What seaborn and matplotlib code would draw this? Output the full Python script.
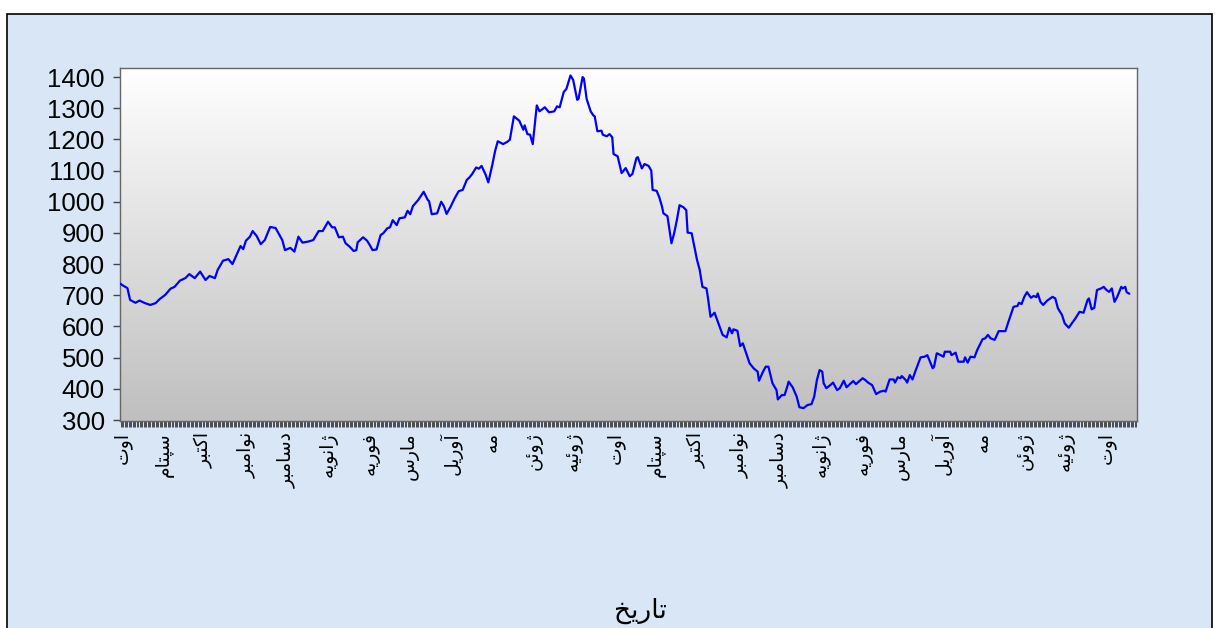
import matplotlib
matplotlib.use("Agg")
import matplotlib.pyplot as plt
import matplotlib.dates as mdates
from matplotlib.patches import Rectangle
from matplotlib.colors import LinearSegmentedColormap
import numpy as np
import pandas as pd
import seaborn as sns

# ---------------- data ----------------
start_date = "2007-08-01"
days = [-1, 0, 4, 6, 10, 13, 17, 21, 25, 28, 32, 36, 39, 43, 47, 50, 54, 58, 62, 65,
        69, 71, 75, 79, 82, 85, 88, 90, 92, 95, 97, 100, 103, 106, 110, 114, 119, 121, 125, 128,
        131, 134, 138, 142, 146, 149, 153, 156, 158, 161, 164, 166, 169, 172, 174, 175, 179, 182, 184, 186,
        189, 192, 194, 197, 199, 201, 204, 206, 210, 212, 214, 216, 220, 224, 227, 228, 230, 234, 237, 239,
        241, 244, 247, 250, 253, 256, 258, 260, 263, 265, 267, 270, 272, 275, 277, 279, 283, 286, 288, 291,
        295, 298, 299, 301, 303, 305, 308, 310, 314, 317, 321, 323, 325, 328, 330, 333, 335, 338, 339, 342,
        343, 345, 348, 350, 351, 353, 356, 357, 360, 362, 364, 365, 368, 371, 374, 377, 379, 382, 383, 386,
        388, 391, 393, 394, 397, 399, 401, 402, 405, 408, 410, 412, 414, 417, 419, 420, 423, 425, 427, 429,
        431, 434, 435, 437, 440, 443, 446, 449, 451, 453, 454, 457, 459, 461, 464, 466, 469, 472, 473, 476,
        478, 480, 483, 486, 487, 490, 492, 494, 495, 498, 501, 503, 506, 509, 512, 514, 516, 518, 520, 521,
        523, 526, 528, 531, 533, 536, 538, 543, 545, 550, 552, 554, 557, 560, 563, 566, 567, 570, 573, 574,
        576, 578, 579, 582, 583, 585, 587, 589, 593, 596, 598, 602, 603, 605, 608, 610, 611, 615, 616, 619,
        621, 625, 626, 628, 630, 633, 635, 639, 641, 643, 645, 648, 651, 656, 658, 662, 665, 666, 668, 670,
        672, 675, 677, 679, 680, 682, 684, 687, 691, 693, 695, 698, 700, 703, 705, 708, 711, 714, 717, 718,
        720, 722, 724, 727, 729, 731, 733, 735, 737, 739, 742, 743, 745, 746, 748]
values = [737, 733, 723, 685, 676, 683, 675, 669, 675, 688, 701, 721, 727, 747, 755, 768, 755, 776, 749, 762,
          755, 781, 811, 816, 800, 829, 858, 848, 875, 888, 906, 890, 864, 877, 919, 916, 877, 845, 852, 840,
          888, 869, 872, 877, 906, 906, 936, 918, 918, 886, 888, 867, 856, 842, 845, 870, 886, 875, 861, 845,
          847, 893, 899, 915, 918, 941, 925, 947, 950, 971, 960, 986, 1006, 1032, 1006, 1002, 960, 963, 1000, 986,
          961, 984, 1011, 1034, 1038, 1070, 1078, 1089, 1110, 1106, 1115, 1087, 1062, 1119, 1162, 1194, 1185, 1192, 1199, 1274,
          1260, 1231, 1245, 1217, 1215, 1185, 1309, 1290, 1303, 1287, 1290, 1306, 1303, 1352, 1362, 1405, 1391, 1327, 1330, 1400,
          1395, 1330, 1290, 1277, 1274, 1226, 1228, 1215, 1210, 1217, 1207, 1153, 1146, 1092, 1108, 1082, 1089, 1140, 1143, 1107,
          1121, 1115, 1100, 1038, 1035, 1014, 984, 963, 954, 867, 899, 941, 989, 982, 973, 901, 899, 856, 813, 781,
          727, 722, 695, 631, 644, 608, 573, 565, 596, 578, 591, 586, 537, 546, 508, 482, 466, 455, 426, 455,
          471, 471, 418, 396, 366, 380, 380, 407, 423, 405, 375, 341, 338, 348, 351, 375, 428, 460, 455, 418,
          402, 412, 420, 396, 402, 426, 405, 425, 415, 434, 428, 420, 412, 383, 391, 394, 391, 430, 430, 420,
          437, 434, 441, 428, 420, 444, 430, 455, 501, 503, 508, 466, 471, 514, 508, 503, 519, 519, 508, 516,
          487, 487, 501, 484, 503, 501, 524, 559, 562, 573, 562, 557, 585, 585, 612, 663, 666, 676, 672, 695,
          710, 692, 698, 694, 706, 679, 669, 683, 695, 690, 658, 637, 610, 596, 608, 626, 647, 644, 685, 690,
          655, 660, 717, 722, 727, 717, 711, 722, 679, 695, 727, 722, 727, 710, 705]
assert len(days) == len(values), (len(days), len(values))

month_labels = ["اوت", "سپتام", "اکتبر", "نوامبر", "دسامبر", "ژانویه", "فوریه", "مارس",
                "آوریل", "مه", "ژوئن", "ژوئیه",
                "اوت", "سپتام", "اکتبر", "نوامبر", "دسامبر", "ژانویه", "فوریه", "مارس",
                "آوریل", "مه", "ژوئن", "ژوئیه", "اوت"]
y_ticks = [300, 400, 500, 600, 700, 800, 900, 1000, 1100, 1200, 1300, 1400]
x_title = "تاریخ"

# ---------------- simple Arabic-script shaping for display ----------------
FORMS = {
    'ا': ('\uFE8D', '\uFE8E', None, None), 'آ': ('\uFE81', '\uFE82', None, None),
    'ب': ('\uFE8F', '\uFE90', '\uFE91', '\uFE92'), 'پ': ('\uFB56', '\uFB57', '\uFB58', '\uFB59'),
    'ت': ('\uFE95', '\uFE96', '\uFE97', '\uFE98'), 'خ': ('\uFEA5', '\uFEA6', '\uFEA7', '\uFEA8'),
    'د': ('\uFEA9', '\uFEAA', None, None), 'ر': ('\uFEAD', '\uFEAE', None, None),
    'ژ': ('\uFB8A', '\uFB8B', None, None), 'س': ('\uFEB1', '\uFEB2', '\uFEB3', '\uFEB4'),
    'ف': ('\uFED1', '\uFED2', '\uFED3', '\uFED4'), 'ک': ('\uFB8E', '\uFB8F', '\uFB90', '\uFB91'),
    'ل': ('\uFEDD', '\uFEDE', '\uFEDF', '\uFEE0'), 'م': ('\uFEE1', '\uFEE2', '\uFEE3', '\uFEE4'),
    'ن': ('\uFEE5', '\uFEE6', '\uFEE7', '\uFEE8'), 'ه': ('\uFEE9', '\uFEEA', '\uFEEB', '\uFEEC'),
    'و': ('\uFEED', '\uFEEE', None, None), 'ی': ('\uFBFC', '\uFBFD', '\uFBFE', '\uFBFF'),
    'ئ': ('\uFE89', '\uFE8A', '\uFE8B', '\uFE8C'),
}


def dual(c):
    return c in FORMS and FORMS[c][2] is not None


def shape(word):
    out = []
    for i, c in enumerate(word):
        if c not in FORMS:
            out.append(c)
            continue
        prev_join = i > 0 and dual(word[i - 1])
        next_join = i < len(word) - 1 and dual(c) and word[i + 1] in FORMS
        f = FORMS[c]
        if prev_join and next_join:
            g = f[3]
        elif prev_join:
            g = f[1]
        elif next_join:
            g = f[2]
        else:
            g = f[0]
        out.append(g)
    return "".join(reversed(out))


# ---------------- figure ----------------
sns.set_theme(style="white")
plt.rcParams["font.family"] = ["Liberation Sans", "DejaVu Sans"]

W, H = 1215, 628
fig = plt.figure(figsize=(W / 100, H / 100), dpi=100)
fig.patch.set_facecolor("white")
fig.add_artist(Rectangle((7 / W, -0.05), (1212 - 7) / W, 1 - 14 / H + 0.05,
                         transform=fig.transFigure, facecolor="#d8e6f5",
                         edgecolor="black", lw=1.2, zorder=-10))

ax = fig.add_axes([120 / W, 1 - 421 / H, (1137 - 120) / W, (421 - 68) / H])

cmap = LinearSegmentedColormap.from_list("g", ["#bfbfbf", "#ffffff"])
grad = np.linspace(1, 0, 256).reshape(-1, 1)
ax.imshow(grad, aspect="auto", cmap=cmap, extent=[0, 1, 0, 1],
          transform=ax.transAxes, zorder=0, interpolation="bicubic")

t0 = pd.Timestamp(start_date)
df = pd.DataFrame({"date": t0 + pd.to_timedelta(days, unit="D"), "value": values})
sns.lineplot(data=df, x="date", y="value", ax=ax, color="#0000ff", linewidth=1.6, zorder=3)

ax.set_xlim(t0 - pd.Timedelta(days=1.5), t0 + pd.Timedelta(days=753.7))
ax.set_ylim(296.8, 1429)
ax.set_aspect("auto")

month_pos = pd.date_range(t0, periods=len(month_labels), freq="MS")
ax.set_xticks(month_pos)
ax.set_xticklabels([shape(m) for m in month_labels], rotation=90,
                   fontsize=13.5, family=["DejaVu Sans"], color="black")
ax.xaxis.set_minor_locator(mdates.DayLocator())
ax.tick_params(axis="x", which="both", direction="out", length=4, width=0.6,
               color="#333333", pad=4, bottom=True)
ax.set_yticks(y_ticks)
ax.set_yticklabels([str(v) for v in y_ticks], color="black")
ax.tick_params(axis="y", direction="out", length=5, width=1, color="#444444",
               labelsize=18.5, pad=6, left=True)
ax.set_xlabel("")
ax.set_ylabel("")
for s in ax.spines.values():
    s.set_color("#666666")
    s.set_linewidth(1)

fig.text(640 / W, 1 - 611 / H, shape(x_title), ha="center", va="center",
         fontsize=19, family=["DejaVu Sans"], color="black")

fig.savefig("out.png", dpi=100)
